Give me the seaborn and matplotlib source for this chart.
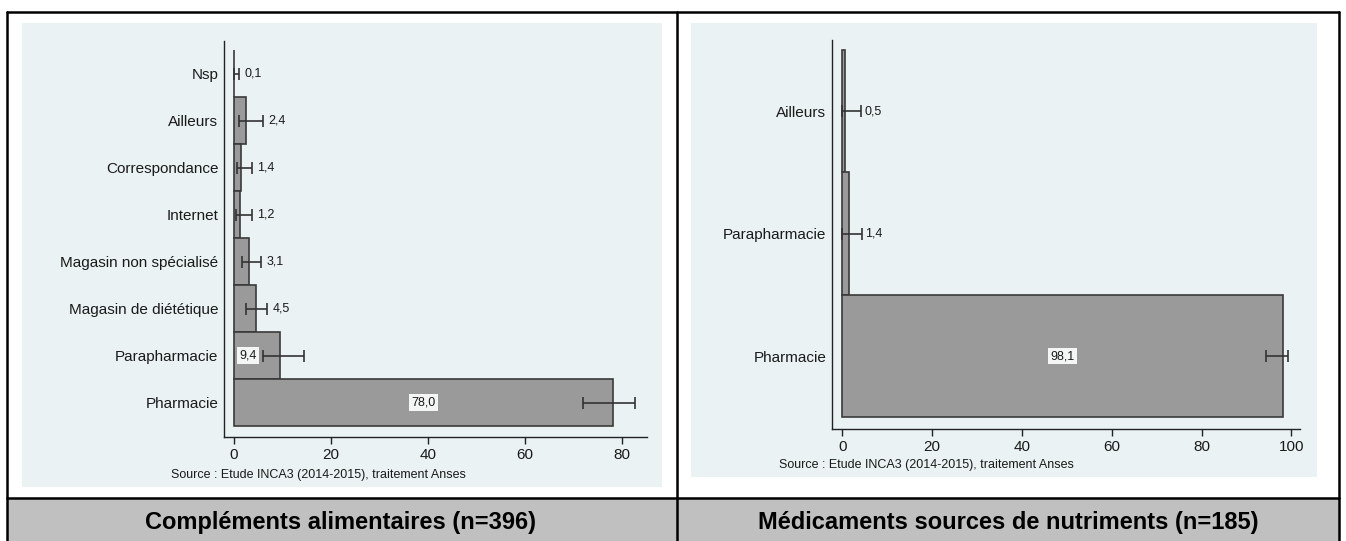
"""Lieux d'achat des compléments alimentaires et médicaments - INCA3"""
import numpy as np
import pandas as pd
import matplotlib
matplotlib.use("Agg")
import matplotlib.pyplot as plt
import seaborn as sns
from matplotlib.patches import Rectangle
from matplotlib.lines import Line2D

sns.set_theme(style="ticks")
plt.rcParams['font.family'] = ['Liberation Sans', 'DejaVu Sans']

# Données - compléments alimentaires
comp_categories = ["Nsp", "Ailleurs", "Correspondance", "Internet",
                   "Magasin non spécialisé", "Magasin de diététique",
                   "Parapharmacie", "Pharmacie"]
comp_values = [0.1, 2.4, 1.4, 1.2, 3.1, 4.5, 9.4, 78.0]
comp_ci_low = [0.0, 1.1, 0.6, 0.4, 1.7, 2.5, 5.9, 72.0]
comp_ci_high = [1.1, 5.9, 3.7, 3.7, 5.5, 6.8, 14.4, 82.7]
comp_ticks = [0, 20, 40, 60, 80]

# Données - médicaments sources de nutriments
med_categories = ["Ailleurs", "Parapharmacie", "Pharmacie"]
med_values = [0.5, 1.4, 98.1]
med_ci_low = [0.0, 0.0, 94.4]
med_ci_high = [4.1, 4.4, 99.2]
med_ticks = [0, 20, 40, 60, 80, 100]

source_txt = "Source : Etude INCA3 (2014-2015), traitement Anses"

W, H = 1346, 541
BG = '#eaf2f3'
BAR = '#9a9a9a'
EDGE = '#3a3a3a'
TXT = '#1a1a1a'


def px_box(x0, y0, x1, y1):
    return [x0 / W, 1 - y1 / H, (x1 - x0) / W, (y1 - y0) / H]


fig = plt.figure(figsize=(W / 100, H / 100), dpi=100)
fig.patch.set_facecolor('white')

# fonds des panneaux et bandeau gris
for x0, y0, x1, y1, col in [(22, 23, 662, 487, BG), (691, 23, 1317, 477, BG),
                            (7, 498, 1339, 541, '#c0c0c0')]:
    b = px_box(x0, y0, x1, y1)
    fig.patches.append(Rectangle((b[0], b[1]), b[2], b[3], transform=fig.transFigure,
                                 facecolor=col, edgecolor='none', zorder=-5))

# cadre noir
for xs, ys in [((7, 1339), (12, 12)), ((7, 7), (12, 541)), ((1339, 1339), (12, 541)),
               ((677, 677), (12, 541)), ((7, 1339), (498, 498))]:
    fig.lines.append(Line2D([x / W for x in xs], [1 - y / H for y in ys],
                            transform=fig.transFigure, color='black', lw=1.8, zorder=5))


def draw_panel(ax, cats, vals, lo, hi, ticks, xlim, ylim, lab_off):
    df = pd.DataFrame({'cat': cats, 'val': vals})
    sns.barplot(data=df, x='val', y='cat', orient='h', color=BAR, saturation=1,
                width=1.0, edgecolor=EDGE, linewidth=1.2, errorbar=None, ax=ax)
    pos = np.arange(len(cats))
    v = np.array(vals)
    ax.errorbar(v, pos, xerr=[v - np.array(lo), np.array(hi) - v], fmt='none',
                ecolor='#333333', elinewidth=1.2, capsize=4.5, capthick=1.2, zorder=4)
    for i, (val, h) in enumerate(zip(vals, hi)):
        lab = f"{val:.1f}".replace('.', ',')
        if val >= 50:
            ax.text(val / 2, i, lab, ha='center', va='center', fontsize=9, color=TXT,
                    bbox=dict(facecolor='#f4f6f6', edgecolor='none', pad=1.5), zorder=5)
        elif val >= 5:
            ax.annotate(lab, (0, i), xytext=(4, 0), textcoords='offset points',
                        ha='left', va='center', fontsize=9, color=TXT,
                        bbox=dict(facecolor='#f4f6f6', edgecolor='none', pad=1.5), zorder=5)
        else:
            ax.annotate(lab, (h, i), xytext=(lab_off, 0), textcoords='offset points',
                        ha='left', va='center', fontsize=9, color=TXT, zorder=5)
    ax.set_facecolor('none')
    ax.set_xlim(*xlim)
    ax.set_ylim(*ylim)
    ax.set_xticks(ticks)
    ax.set_xlabel('')
    ax.set_ylabel('')
    sns.despine(ax=ax)
    for s in ['left', 'bottom']:
        ax.spines[s].set_color('#222222')
        ax.spines[s].set_linewidth(1.0)
    ax.tick_params(axis='x', length=5, width=1, color='#222222', pad=3,
                   labelsize=11, labelcolor=TXT)
    ax.tick_params(axis='y', length=0, pad=4, labelsize=11, labelcolor=TXT)


ax1 = fig.add_axes(px_box(224, 40.7, 646.5, 437.3))
draw_panel(ax1, comp_categories, comp_values, comp_ci_low, comp_ci_high,
           comp_ticks, (-2.06, 85), (7.74, -0.7), 4)

ax2 = fig.add_axes(px_box(831.7, 40, 1300, 428.7))
draw_panel(ax2, med_categories, med_values, med_ci_low, med_ci_high,
           med_ticks, (-2.36, 101.9), (2.593, -0.582), 2.5)

fig.text(170.7 / W, 1 - 475 / H, source_txt, ha='left', va='center', fontsize=9, color=TXT)
fig.text(779 / W, 1 - 465 / H, source_txt, ha='left', va='center', fontsize=9, color=TXT)

fig.text(340.5 / W, 1 - 523 / H, "Compléments alimentaires (n=396)", ha='center',
         va='center', fontsize=17, fontweight='bold', color='black')
fig.text(1008 / W, 1 - 523 / H, "Médicaments sources de nutriments (n=185)", ha='center',
         va='center', fontsize=17, fontweight='bold', color='black')

fig.savefig('out.png', dpi=100)
